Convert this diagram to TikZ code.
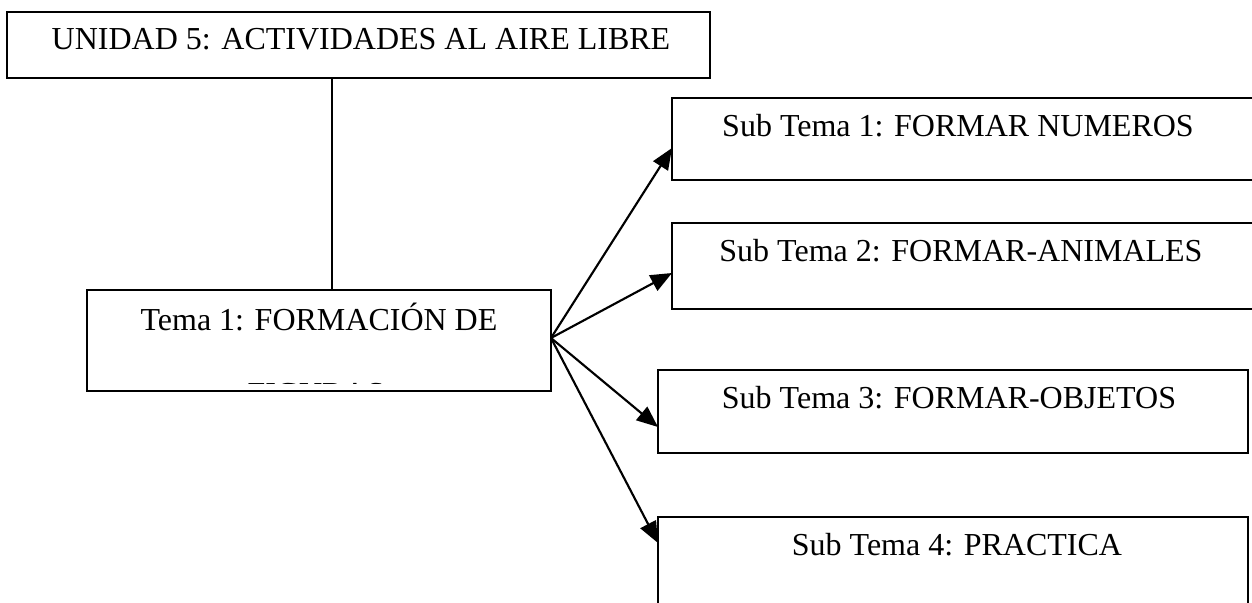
\documentclass[tikz,border=0pt]{standalone}
\usepackage{fontspec}
\setmainfont{Liberation Serif}
\usetikzlibrary{arrows.meta}
\begin{document}
\begin{tikzpicture}[x=0.375pt,y=-0.375pt,
  box/.style={draw=black,line width=0.95pt,fill=white,inner sep=0pt,outer sep=0pt,anchor=north west},
  txt/.style={font=\fontsize{12}{14}\selectfont,inner sep=0pt,anchor=base},
  conn/.style={line width=0.8pt},
  arr/.style={line width=0.8pt,-{Triangle[length=8pt,width=6.5pt]}}]
\useasboundingbox (0,0) rectangle (1252,602);
\clip (0,0) rectangle (1252,602);
% boxes
\node[box,minimum width=703*0.375pt,minimum height=66*0.375pt] (top) at (7,12) {};
\node[box,minimum width=464*0.375pt,minimum height=101*0.375pt] (tema) at (87,290) {};
\node[box,minimum width=598*0.375pt,minimum height=82*0.375pt] (s1) at (672,98) {};
\node[box,minimum width=598*0.375pt,minimum height=86*0.375pt] (s2) at (672,223) {};
\node[box,minimum width=590*0.375pt,minimum height=83*0.375pt] (s3) at (658,370) {};
\node[box,minimum width=590*0.375pt,minimum height=123*0.375pt] (s4) at (658,517) {};
% texts
\node[txt] (ttop) at (361,49) {UNIDAD 5: ACTIVIDADES AL AIRE LIBRE};
\node[txt] (ttema) at (319,330) {Tema 1: FORMACIÓN DE};
\begin{scope}
  \clip (90,293) rectangle (548,383.5);
  \node[txt] (ttema2) at (316,404) {FIGURAS};
\end{scope}
\node[txt] (ts1) at (958,136) {Sub Tema 1: FORMAR NUMEROS};
\node[txt] (ts2) at (961,261) {Sub Tema 2: FORMAR-ANIMALES};
\node[txt] (ts3) at (949,408) {Sub Tema 3: FORMAR-OBJETOS};
\node[txt] (ts4) at (957,555) {Sub Tema 4: PRACTICA};
% connectors
\draw[conn] ([xshift=-26.5*0.375pt]top.south) -- ([xshift=-26.5*0.375pt]top.south |- tema.north);
\coordinate (o) at ([yshift=0.94pt]tema.east);
\draw[arr] (o) -- ([yshift=-50*0.375pt]s1.north west);
\draw[arr] (o) -- ([yshift=-50*0.375pt]s2.north west);
\draw[arr] (o) -- ([yshift=-57*0.375pt]s3.north west);
\draw[arr] (o) -- ([yshift=-26*0.375pt]s4.north west);
\end{tikzpicture}
\end{document}
